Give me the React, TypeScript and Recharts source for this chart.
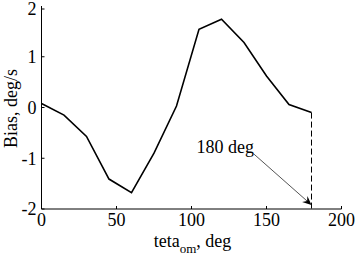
import React from 'react';
import { LineChart, Line, XAxis, YAxis, ReferenceLine, ReferenceDot } from 'recharts';

const angles = [0, 15, 30, 45, 60, 75, 90, 105, 120, 135, 150, 165, 180];
const bias = [0.08, -0.15, -0.57, -1.41, -1.68, -0.9, 0.03, 1.54, 1.74, 1.28, 0.62, 0.06, -0.1];
const xTicks = [0, 50, 100, 150, 200];
const yTicks = [-2, -1, 0, 1, 2];
const annotationText = '180 deg';
const annotationTextPos = { x: 122.5, y: -0.9 };
const arrowStart = { x: 141.7, y: -0.92 };
const arrowEnd = { x: 180, y: -1.92 };
const dashTop = { x: 180, y: -0.1 };
const dashBottom = { x: 180, y: -2 };

const data = angles.map((a, i) => ({ angle: a, bias: bias[i] }));

const FONT = 'Liberation Serif';
const FS = 18;
const TICK = 3;

const BottomTick = (p: any) => (
  <g>
    <line x1={p.x} x2={p.x} y1={p.y} y2={p.y - TICK} stroke="#000" strokeWidth={1} />
    <text x={p.x} y={p.y + 17} textAnchor="middle" fontSize={FS} fontFamily={FONT} fill="#000">
      {p.payload.value}
    </text>
  </g>
);
const TopTick = (p: any) => (
  <line x1={p.x} x2={p.x} y1={p.y} y2={p.y + TICK} stroke="#000" strokeWidth={1} />
);
const LeftTick = (p: any) => (
  <g>
    <line x1={p.x} x2={p.x + TICK} y1={p.y} y2={p.y} stroke="#000" strokeWidth={1} />
    <text x={p.x - 5} y={p.y} dy="0.36em" textAnchor="end" fontSize={FS} fontFamily={FONT} fill="#000">
      {p.payload.value}
    </text>
  </g>
);
const RightTick = (p: any) => (
  <line x1={p.x} x2={p.x - TICK} y1={p.y} y2={p.y} stroke="#000" strokeWidth={1} />
);

const XLabel = (p: any) => {
  const vb = p.viewBox;
  const cx = vb.x + vb.width / 2 + 1;
  const y = vb.y + 38;
  return (
    <text x={cx} y={y} textAnchor="middle" fontSize={FS} fontFamily={FONT} fill="#000">
      <tspan>teta</tspan>
      <tspan fontSize={13} dy={6}>om</tspan>
      <tspan dy={-6}>, deg</tspan>
    </text>
  );
};

const YLabel = (p: any) => {
  const vb = p.viewBox;
  const x = 17;
  const y = vb.y + vb.height / 2 + 1;
  return (
    <text x={x} y={y} textAnchor="middle" fontSize={FS} fontFamily={FONT} fill="#000" transform={`rotate(-90, ${x}, ${y})`}>
      Bias, deg/s
    </text>
  );
};

const ArrowShape = (p: any) => {
  const { x1, y1, x2, y2 } = p;
  const dx = x2 - x1;
  const dy = y2 - y1;
  const len = Math.sqrt(dx * dx + dy * dy) || 1;
  const ux = dx / len;
  const uy = dy / len;
  const hl = 9;
  const hw = 4;
  const bx = x2 - ux * hl;
  const by = y2 - uy * hl;
  const nx = -uy;
  const ny = ux;
  const pts = `${x2},${y2} ${bx + nx * hw},${by + ny * hw} ${x2 - ux * hl * 0.65},${y2 - uy * hl * 0.65} ${bx - nx * hw},${by - ny * hw}`;
  return (
    <g>
      <line x1={x1} y1={y1} x2={x2 - ux * 4} y2={y2 - uy * 4} stroke="#555" strokeWidth={1} />
      <polygon points={pts} fill="#000" />
    </g>
  );
};

const TextShape = (p: any) => (
  <text x={p.cx} y={p.cy} textAnchor="middle" fontSize={FS} fontFamily={FONT} fill="#000">
    {annotationText}
  </text>
);

export default function App() {
  return (
    <div style={{ position: 'absolute', left: 0, top: 0, width: 355, height: 256, background: '#fff' }}>
      <LineChart width={355} height={256} data={data} margin={{ top: 6, right: 13.5, left: 0.5, bottom: 0 }}>
        <XAxis
          dataKey="angle"
          type="number"
          domain={[0, 200]}
          ticks={xTicks}
          height={47}
          tickSize={0}
          tickMargin={0}
          tickLine={false}
          axisLine={{ stroke: '#000', strokeWidth: 1 }}
          tick={<BottomTick />}
          label={{ content: <XLabel /> }}
          allowDataOverflow
        />
        <XAxis
          xAxisId="top"
          orientation="top"
          dataKey="angle"
          type="number"
          domain={[0, 200]}
          ticks={xTicks}
          height={0}
          tickSize={0}
          tickMargin={0}
          tickLine={false}
          axisLine={{ stroke: '#000', strokeWidth: 1 }}
          tick={<TopTick />}
          allowDataOverflow
        />
        <YAxis
          type="number"
          domain={[-2, 2]}
          ticks={yTicks}
          width={41}
          tickSize={0}
          tickMargin={0}
          tickLine={false}
          axisLine={{ stroke: '#000', strokeWidth: 1 }}
          tick={<LeftTick />}
          label={{ content: <YLabel /> }}
          allowDataOverflow
        />
        <YAxis
          yAxisId="right"
          orientation="right"
          type="number"
          domain={[-2, 2]}
          ticks={yTicks}
          width={0}
          tickSize={0}
          tickMargin={0}
          tickLine={false}
          axisLine={{ stroke: '#000', strokeWidth: 1 }}
          tick={<RightTick />}
          allowDataOverflow
        />
        <Line
          dataKey="bias"
          stroke="#000"
          strokeWidth={1.6}
          dot={false}
          activeDot={false}
          isAnimationActive={false}
          type="linear"
        />
        <ReferenceLine
          segment={[dashTop, dashBottom]}
          stroke="#000"
          strokeWidth={1}
          strokeDasharray="6 3"
        />
        <ReferenceLine segment={[arrowStart, arrowEnd]} shape={(p: any) => <ArrowShape {...p} />} />
        <ReferenceDot
          x={annotationTextPos.x}
          y={annotationTextPos.y}
          r={0}
          shape={(p: any) => <TextShape {...p} />}
        />
      </LineChart>
    </div>
  );
}
